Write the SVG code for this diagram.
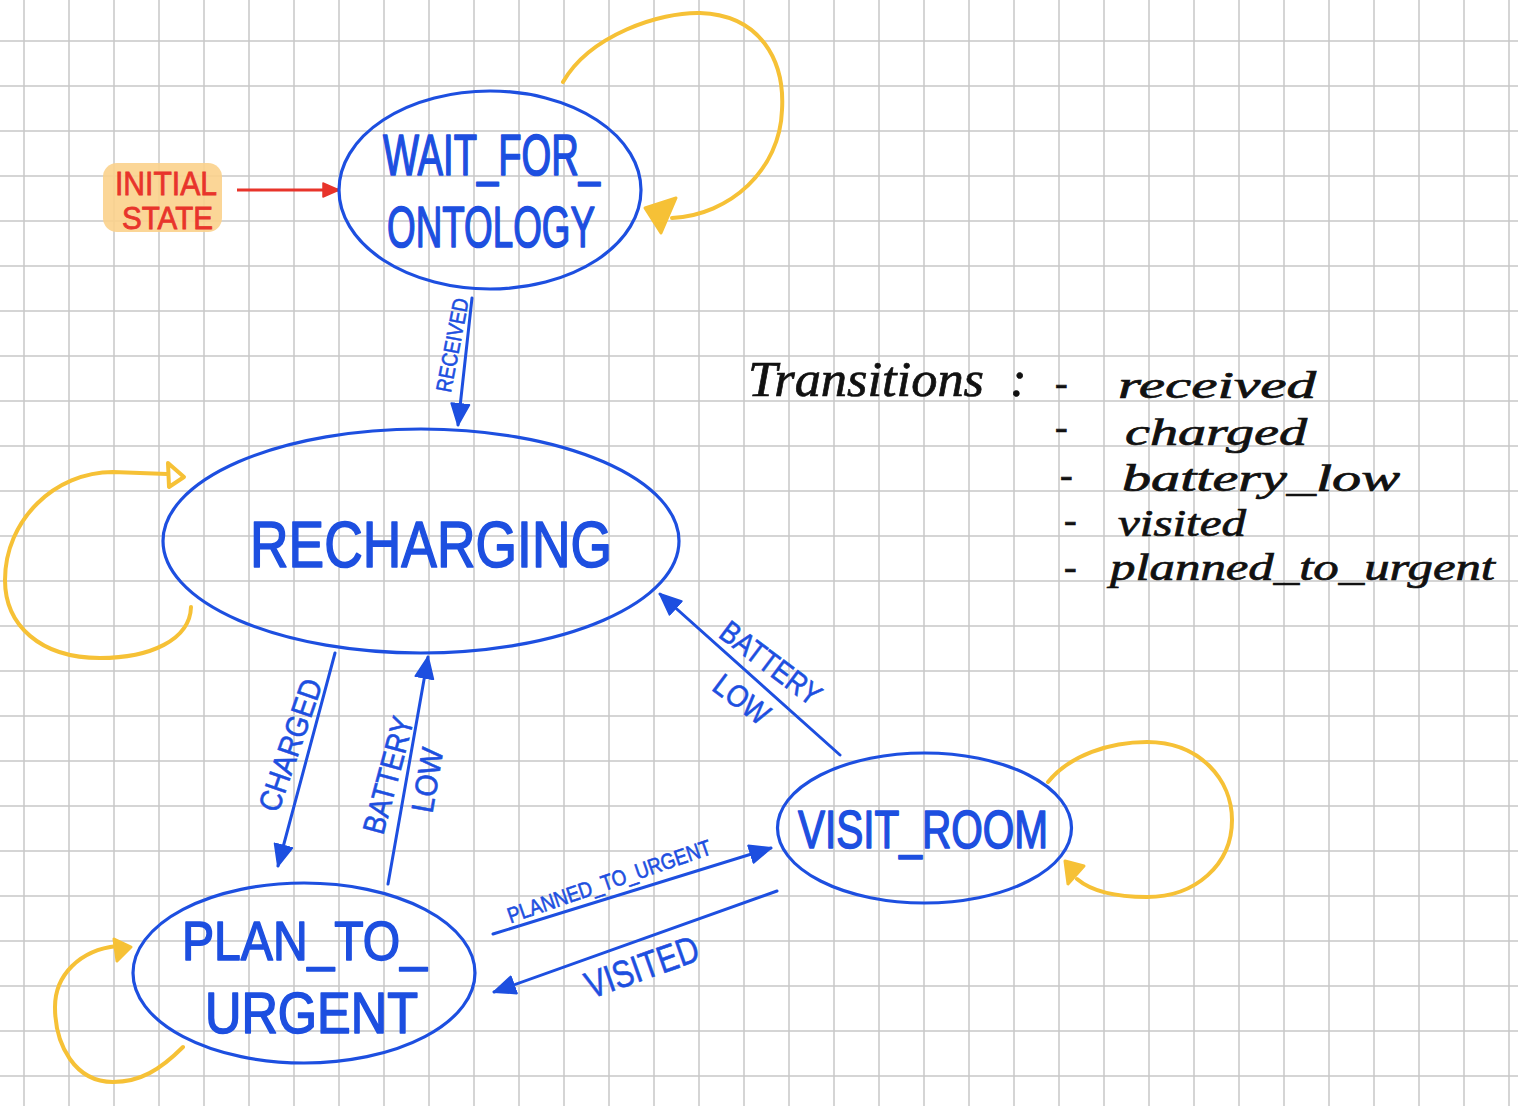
<svg xmlns="http://www.w3.org/2000/svg" width="1518" height="1106" viewBox="0 0 1518 1106">
<style>
.grid{stroke:#c8c8c8;stroke-width:1.5}
.node{fill:none;stroke:#1d4fe0;stroke-width:3.2}
.conn{fill:none;stroke:#1d4fe0;stroke-width:3;stroke-linecap:round}
.loop{fill:none;stroke:#f6c136;stroke-width:4;stroke-linecap:round}
.big{font-family:"Liberation Sans",Arial,sans-serif;fill:#1d4fe0;stroke:#1d4fe0;stroke-width:1.6;stroke-linejoin:round;text-anchor:start}
.lbl{font-family:"Liberation Sans",Arial,sans-serif;fill:#1d4fe0;stroke:#1d4fe0;stroke-width:0.6;text-anchor:middle}
.hand{font-family:"Liberation Serif","DejaVu Serif",serif;font-style:italic;fill:#111;stroke:#111;stroke-width:0.7}
</style>
<defs>
<marker id="ab" markerUnits="userSpaceOnUse" markerWidth="26" markerHeight="22" refX="22" refY="11" orient="auto">
<path d="M1,2 L22,11 L1,20 Z" fill="#1d4fe0" stroke="#1d4fe0" stroke-width="2" stroke-linejoin="round"/>
</marker>
<marker id="ar" markerUnits="userSpaceOnUse" markerWidth="20" markerHeight="18" refX="17" refY="9" orient="auto">
<path d="M1,2 L17,9 L1,16 Z" fill="#e8342b" stroke="#e8342b" stroke-width="1.5" stroke-linejoin="round"/>
</marker>
</defs>
<rect width="1518" height="1106" fill="#ffffff"/>
<g id="grid">
<path class="grid" d="M24,0V1106M69,0V1106M114,0V1106M159,0V1106M204,0V1106M249,0V1106M294,0V1106M339,0V1106M384,0V1106M429,0V1106M474,0V1106M519,0V1106M564,0V1106M609,0V1106M654,0V1106M699,0V1106M744,0V1106M789,0V1106M834,0V1106M879,0V1106M924,0V1106M969,0V1106M1014,0V1106M1059,0V1106M1104,0V1106M1149,0V1106M1194,0V1106M1239,0V1106M1284,0V1106M1329,0V1106M1374,0V1106M1419,0V1106M1464,0V1106M1509,0V1106"/>
<path class="grid" d="M0,41H1518M0,86H1518M0,131H1518M0,176H1518M0,221H1518M0,266H1518M0,311H1518M0,356H1518M0,401H1518M0,446H1518M0,491H1518M0,536H1518M0,581H1518M0,626H1518M0,671H1518M0,716H1518M0,761H1518M0,806H1518M0,851H1518M0,896H1518M0,941H1518M0,986H1518M0,1031H1518M0,1076H1518"/>
</g>
<g id="connectors">
<path d="M237,190 L339,190" fill="none" stroke="#e8342b" stroke-width="3" marker-end="url(#ar)"/>
<path class="conn" d="M472,298 L458,425" marker-end="url(#ab)"/>
<path class="conn" d="M335,653 L278,866" marker-end="url(#ab)"/>
<path class="conn" d="M388,884 L428,657" marker-end="url(#ab)"/>
<path class="conn" d="M840,755 L660,594" marker-end="url(#ab)"/>
<path class="conn" d="M493,934 L771,848" marker-end="url(#ab)"/>
<path class="conn" d="M777,891 L494,992" marker-end="url(#ab)"/>
<path class="loop" d="M563,82 C590,35 660,12 700,13 C760,15 785,60 782,110 C780,170 730,215 672,218"/>
<path d="M645,208 L676,198 L661,233 Z" fill="#f6c136" stroke="#f6c136" stroke-width="3" stroke-linejoin="round"/>
<path class="loop" d="M191,607 C190,640 150,658 100,658 C40,658 5,625 5,580 C5,520 55,472 113,472 L167,474"/>
<path d="M168,463 L184,477 L169,487 Z" fill="#ffffff" stroke="#f6c136" stroke-width="4" stroke-linejoin="round"/>
<path class="loop" d="M1048,782 C1070,755 1110,742 1147,742 C1200,742 1232,780 1232,820 C1232,865 1195,897 1147,897 C1110,897 1090,890 1077,879"/>
<path d="M1065,861 L1084,866 L1068,884 Z" fill="#f6c136" stroke="#f6c136" stroke-width="3" stroke-linejoin="round"/>
<path class="loop" d="M183,1047 C160,1070 140,1082 113,1082 C75,1082 55,1045 55,1007 C55,975 80,950 117,946"/>
<path d="M114,939 L131,947 L117,961 Z" fill="#f6c136" stroke="#f6c136" stroke-width="3" stroke-linejoin="round"/>
<g transform="translate(452,345) rotate(-79)"><text class="lbl" x="0" y="8" font-size="22" textLength="95" lengthAdjust="spacingAndGlyphs">RECEIVED</text></g>
<g transform="translate(290,745) rotate(-71)"><text class="lbl" x="0" y="11" font-size="31" textLength="138" lengthAdjust="spacingAndGlyphs">CHARGED</text></g>
<g transform="translate(388,775) rotate(-75)"><text class="lbl" x="0" y="11" font-size="31" textLength="120" lengthAdjust="spacingAndGlyphs">BATTERY</text></g>
<g transform="translate(427,780) rotate(-80)"><text class="lbl" x="0" y="11" font-size="31" textLength="65" lengthAdjust="spacingAndGlyphs">LOW</text></g>
<g transform="translate(771,663) rotate(37)"><text class="lbl" x="0" y="11" font-size="31" textLength="118" lengthAdjust="spacingAndGlyphs">BATTERY</text></g>
<g transform="translate(742,699) rotate(37)"><text class="lbl" x="0" y="11" font-size="31" textLength="62" lengthAdjust="spacingAndGlyphs">LOW</text></g>
<g transform="translate(609,881) rotate(-19)"><text class="lbl" x="0" y="8" font-size="22" textLength="214" lengthAdjust="spacingAndGlyphs">PLANNED_TO_URGENT</text></g>
<g transform="translate(642,967) rotate(-19.5)"><text class="lbl" x="0" y="13" font-size="38" textLength="118" lengthAdjust="spacingAndGlyphs">VISITED</text></g>
</g>
<g id="initial_state">
<rect x="103" y="163" width="119" height="69" rx="14" fill="#fbd28c" opacity="0.9"/>
<text font-family="Liberation Sans,Arial,sans-serif" fill="#e8342b" stroke="#e8342b" stroke-width="0.8"><tspan x="115" y="195" font-size="34" textLength="102" lengthAdjust="spacingAndGlyphs">INITIAL</tspan><tspan x="122" y="229" font-size="31" textLength="91" lengthAdjust="spacingAndGlyphs">STATE</tspan></text>
</g>
<g id="wait_for_ontology">
<ellipse class="node" cx="490" cy="190" rx="151" ry="99"/>
<text class="big" font-size="58"><tspan x="383" y="175" textLength="217" lengthAdjust="spacingAndGlyphs">WAIT_FOR_</tspan><tspan x="387" y="247" textLength="208" lengthAdjust="spacingAndGlyphs">ONTOLOGY</tspan></text>
</g>
<g id="recharging">
<ellipse class="node" cx="421" cy="541" rx="258" ry="112"/>
<text class="big" x="250" y="567" font-size="64" textLength="362" lengthAdjust="spacingAndGlyphs">RECHARGING</text>
</g>
<g id="visit_room">
<ellipse class="node" cx="924.5" cy="828" rx="147" ry="75"/>
<text class="big" x="798" y="848" font-size="54" textLength="250" lengthAdjust="spacingAndGlyphs">VISIT_ROOM</text>
</g>
<g id="plan_to_urgent">
<ellipse class="node" cx="304" cy="973" rx="171" ry="90"/>
<text class="big"><tspan x="182" y="960" font-size="56" textLength="245" lengthAdjust="spacingAndGlyphs">PLAN_TO_</tspan><tspan x="205" y="1033" font-size="58" textLength="213" lengthAdjust="spacingAndGlyphs">URGENT</tspan></text>
</g>
<g id="legend">
<text class="hand" font-size="38"><tspan x="748" y="396" font-size="50" textLength="236" lengthAdjust="spacingAndGlyphs">Transitions</tspan><tspan x="1010" y="396" font-size="50">:</tspan><tspan x="1055" y="396">-</tspan><tspan x="1118" y="398" textLength="198" lengthAdjust="spacingAndGlyphs">received</tspan><tspan x="1055" y="440">-</tspan><tspan x="1125" y="445" textLength="182" lengthAdjust="spacingAndGlyphs">charged</tspan><tspan x="1060" y="488">-</tspan><tspan x="1122" y="491" textLength="278" lengthAdjust="spacingAndGlyphs">battery_low</tspan><tspan x="1064" y="533">-</tspan><tspan x="1118" y="536" textLength="128" lengthAdjust="spacingAndGlyphs">visited</tspan><tspan x="1064" y="580">-</tspan><tspan x="1110" y="580" textLength="385" lengthAdjust="spacingAndGlyphs">planned_to_urgent</tspan></text>
</g>
</svg>
